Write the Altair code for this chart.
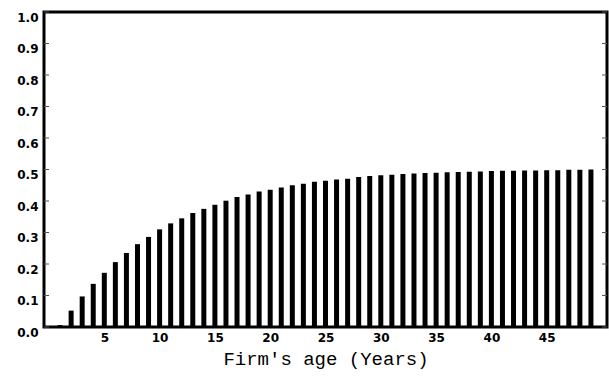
import altair as alt
import pandas as pd

# Firm's age in years and the plotted share for each age
ages = list(range(1, 50))
shares = [
    0.006, 0.052, 0.097, 0.137, 0.172, 0.206, 0.235, 0.263, 0.286, 0.310,
    0.329, 0.345, 0.362, 0.375, 0.388, 0.401, 0.413, 0.421, 0.430, 0.436,
    0.443, 0.450, 0.455, 0.461, 0.464, 0.468, 0.471, 0.476, 0.479, 0.482,
    0.483, 0.486, 0.487, 0.489, 0.490, 0.491, 0.492, 0.493, 0.494, 0.495,
    0.496, 0.496, 0.497, 0.497, 0.498, 0.498, 0.499, 0.499, 0.500,
]
x_ticks = [5, 10, 15, 20, 25, 30, 35, 40, 45]
y_ticks = [round(i * 0.1, 1) for i in range(11)]

bars_df = pd.DataFrame({"age": ages, "share": shares})
ticks_df = pd.DataFrame({"share": y_ticks})

x_scale = alt.Scale(domain=[0, 50], nice=False)
y_scale = alt.Scale(domain=[0, 1], nice=False)

label_font = "DejaVu Sans"
title_font = "Liberation Mono, Courier New, DejaVu Sans Mono, monospace"

y_axis = alt.Axis(
    values=y_ticks,
    format=".1f",
    title=None,
    labelFont=label_font,
    labelFontSize=12,
    labelFontWeight="bold",
    labelColor="black",
    labelBaseline="top",
    labelPadding=6,
    labelOverlap=False,
    ticks=False,
    domain=False,
    grid=False,
)

bars = alt.Chart(bars_df).mark_bar(width=5, color="black").encode(
    x=alt.X(
        "age:Q",
        scale=x_scale,
        axis=alt.Axis(
            values=x_ticks,
            title="Firm's age (Years)",
            titleFont=title_font,
            titleFontSize=19,
            titleFontWeight="normal",
            titleColor="black",
            titlePadding=6,
            labelFont=label_font,
            labelFontSize=12,
            labelFontWeight="bold",
            labelColor="black",
            labelPadding=5,
            labelOverlap=False,
            ticks=False,
            domain=False,
            grid=False,
        ),
    ),
    y=alt.Y("share:Q", scale=y_scale, axis=y_axis),
)

# Short inward tick marks on the left and right frame edges
left_ticks = alt.Chart(ticks_df).mark_rule(color="#555", strokeWidth=1).encode(
    y=alt.Y("share:Q", scale=y_scale, axis=y_axis),
    x=alt.value(0),
    x2=alt.value(5),
)
right_ticks = alt.Chart(ticks_df).mark_rule(color="#555", strokeWidth=1).encode(
    y=alt.Y("share:Q", scale=y_scale, axis=y_axis),
    x=alt.value(558),
    x2=alt.value(563),
)

chart = (
    alt.layer(bars, left_ticks, right_ticks)
    .properties(
        width=563,
        height=315,
        autosize=alt.AutoSizeParams(type="none"),
        padding={"left": 44, "top": 12, "right": 2, "bottom": 49},
        background="white",
    )
    .configure_view(stroke="black", strokeWidth=3)
)

chart.save("out.html", embed_options={"renderer": "svg", "actions": False})
